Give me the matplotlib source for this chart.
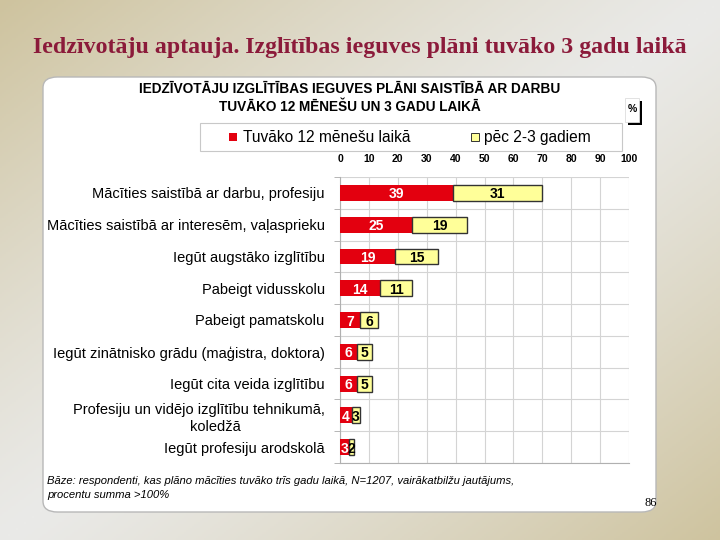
import matplotlib.pyplot as plt
import numpy as np
from matplotlib.patches import FancyBboxPatch, Rectangle

categories = [
    "Mācīties saistībā ar darbu, profesiju",
    "Mācīties saistībā ar interesēm, vaļasprieku",
    "Iegūt augstāko izglītību",
    "Pabeigt vidusskolu",
    "Pabeigt pamatskolu",
    "Iegūt zinātnisko grādu (maģistra, doktora)",
    "Iegūt cita veida izglītību",
    "Profesiju un vidējo izglītību tehnikumā,\n        koledžā",
    "Iegūt profesiju arodskolā",
]
near_12m = [39, 25, 19, 14, 7, 6, 6, 4, 3]
after_2_3y = [31, 19, 15, 11, 6, 5, 5, 3, 2]
series_names = ["Tuvāko 12 mēnešu laikā", "pēc 2-3 gadiem"]
x_ticks = [0, 10, 20, 30, 40, 50, 60, 70, 80, 90, 100]

RED = "#e3000f"
YELLOW = "#ffff99"

fig = plt.figure(figsize=(7.2, 5.4), dpi=100)

# background gradient (tan corners, light grey middle)
bg = fig.add_axes([0, 0, 1, 1], zorder=-10)
h, w = 270, 360
yy, xx = np.mgrid[0:h, 0:w]
t = (xx / w + yy / h) / 2.0
k = np.clip(np.abs(t - 0.5) * 2.0, 0, 1) ** 1.2
tan = np.array([206, 195, 158]) / 255.0
grey = np.array([234, 234, 232]) / 255.0
img = grey[None, None, :] * (1 - k[..., None]) + tan[None, None, :] * k[..., None]
bg.imshow(img, aspect="auto", extent=[0, 1, 0, 1])
bg.set_xlim(0, 1)
bg.set_ylim(0, 1)
bg.axis("off")

# white rounded panel
panel = FancyBboxPatch((43 / 720, 1 - 512 / 540), (656 - 43) / 720, (512 - 77) / 540,
                       boxstyle="round,pad=0,rounding_size=0.02",
                       transform=fig.transFigure, facecolor="white",
                       edgecolor="#b8b8b8", linewidth=1.0, zorder=-5)
fig.patches.append(panel)

fig.text(0.5, 1 - 47 / 540, "Iedzīvotāju aptauja. Izglītības ieguves plāni tuvāko 3 gadu laikā",
         ha="center", va="center", fontsize=17.2, color="#8b1a3a",
         fontweight="bold", family="Liberation Serif")

fig.text(350 / 720, 1 - 98 / 540,
         "IEDZĪVOTĀJU IZGLĪTĪBAS IEGUVES PLĀNI SAISTĪBĀ AR DARBU\nTUVĀKO 12 MĒNEŠU UN 3 GADU LAIKĀ",
         ha="center", va="center", fontsize=9.8, fontweight="bold",
         family="Liberation Sans", linespacing=1.4, multialignment="center")

# "%" box with shadow
fig.patches.append(Rectangle((628 / 720, 1 - 125 / 540), 14 / 720, 24 / 540,
                             transform=fig.transFigure, facecolor="black", zorder=1))
fig.patches.append(Rectangle((625 / 720, 1 - 122 / 540), 14 / 720, 24 / 540,
                             transform=fig.transFigure, facecolor="white",
                             edgecolor="#dddddd", linewidth=0.6, zorder=2))
fig.text(632 / 720, 1 - 109 / 540, "%", ha="center", va="center", fontsize=7.5,
         fontweight="bold", family="Liberation Sans", zorder=3)

# legend box
fig.patches.append(Rectangle((200 / 720, 1 - 151 / 540), (622 - 200) / 720, 28 / 540,
                             transform=fig.transFigure, facecolor="white",
                             edgecolor="#c8c8c8", linewidth=0.8, zorder=1))
fig.patches.append(Rectangle((229 / 720, 1 - 141 / 540), 8 / 720, 8 / 540,
                             transform=fig.transFigure, facecolor=RED,
                             edgecolor="none", zorder=2))
fig.text(243 / 720, 1 - 137 / 540, series_names[0], ha="left", va="center",
         fontsize=11.2, family="Liberation Sans")
fig.patches.append(Rectangle((471 / 720, 1 - 141 / 540), 8 / 720, 8 / 540,
                             transform=fig.transFigure, facecolor=YELLOW,
                             edgecolor="#333333", linewidth=0.7, zorder=2))
fig.text(484 / 720, 1 - 137 / 540, series_names[1], ha="left", va="center",
         fontsize=11.2, family="Liberation Sans")

# bar chart
ax = fig.add_axes([340 / 720, 1 - 463 / 540, 289 / 720, 286 / 540])
ypos = np.arange(len(categories))
ax.barh(ypos, near_12m, height=0.5, color=RED, edgecolor="none", zorder=3)
ax.barh(ypos, after_2_3y, left=near_12m, height=0.5, color=YELLOW,
        edgecolor="#333333", linewidth=1.0, zorder=3)

for y, a, b in zip(ypos, near_12m, after_2_3y):
    ax.text(a / 2, y, str(a), ha="center", va="center_baseline", color="white",
            fontsize=10, fontweight="bold", family="Liberation Sans", zorder=4)
    ax.text(a + b / 2, y, str(b), ha="center", va="center_baseline", color="black",
            fontsize=10, fontweight="bold", family="Liberation Sans", zorder=4)

ax.set_xlim(0, 100)
ax.set_ylim(len(categories) - 0.5, -0.5)
ax.xaxis.tick_top()
ax.set_xticks(x_ticks)
ax.set_xticklabels([str(v) for v in x_ticks], fontsize=7.5, fontweight="bold",
                   family="Liberation Sans")
ax.tick_params(axis="x", length=0, pad=9)
ax.set_yticks(ypos)
ax.set_yticklabels(categories, fontsize=10.5, family="Liberation Sans")
ax.tick_params(axis="y", which="major", length=0, pad=11)
ax.set_yticks(np.arange(len(categories) + 1) - 0.5, minor=True)
ax.tick_params(axis="y", which="minor", length=4, color="#aaaaaa", direction="out")
for lbl in ax.get_yticklabels():
    lbl.set_multialignment("center")
    lbl.set_linespacing(1.3)

ax.grid(True, axis="x", color="#d4d4d4", linewidth=0.8, zorder=0)
ax.grid(True, axis="y", which="minor", color="#d4d4d4", linewidth=0.8, zorder=0)
for side in ["top", "right"]:
    ax.spines[side].set_visible(False)
for side in ["left", "bottom"]:
    ax.spines[side].set_color("#b0b0b0")
    ax.spines[side].set_linewidth(0.8)
ax.set_facecolor("white")

fig.text(47 / 720, 1 - 488 / 540,
         "Bāze: respondenti, kas plāno mācīties tuvāko trīs gadu laikā, N=1207, vairākatbilžu jautājums,\nprocentu summa >100%",
         ha="left", va="center", fontsize=8.1, style="italic",
         family="Liberation Sans", linespacing=1.55)

fig.text(651 / 720, 1 - 503 / 540, "86", ha="center", va="center", fontsize=9,
         family="Liberation Serif")

fig.savefig("out.png", dpi=100)
